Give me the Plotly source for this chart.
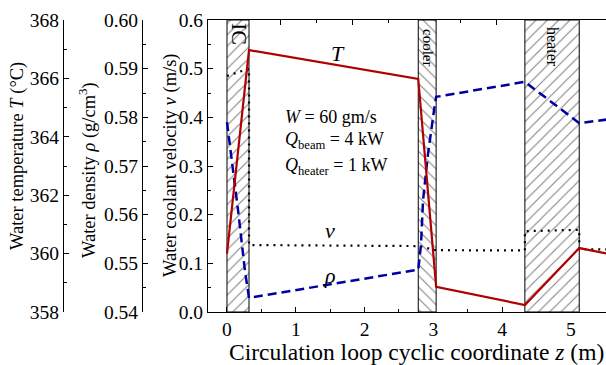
import plotly.graph_objects as go

# ---------------- data ----------------
region_names = ["IC", "cooler", "heater"]
region_start = [0.0, 2.78, 4.33]
region_end = [0.32, 3.04, 5.12]
region_pattern = ["/", "\\", "/"]

z_T = [0.0, 0.32, 2.78, 3.04, 4.33, 5.12, 5.60]
T_vals = [360.0, 366.97, 365.98, 358.86, 358.24, 360.19, 359.97]

z_rho = [0.0, 0.07, 0.16, 0.26, 0.32, 2.78, 2.82, 2.85, 2.92, 3.01, 3.04, 4.33, 5.12, 5.60]
rho_vals = [0.5790, 0.5712, 0.5610, 0.5486, 0.5429, 0.5487, 0.5538, 0.5630, 0.5723,
            0.5815, 0.5842, 0.5873, 0.5788, 0.5797]

z_v = [0.0, 0.32, 0.32, 2.78, 3.04, 4.33, 4.33, 5.12, 5.12, 5.60]
v_vals = [0.485, 0.500, 0.1376, 0.1355, 0.1270, 0.1265, 0.1660, 0.1690, 0.1290, 0.1288]

v_range = [0.0, 0.6]
rho_range = [0.54, 0.60]
T_range = [358, 368]
z_range = [-0.276, 5.509]

W, H = 606, 365
FONT = "Liberation Serif"
RED = "#B00000"
BLUE = "#0000A0"

def px(x):
    return x / W

fig = go.Figure()

# hatched component regions
for name, a, b, pat in zip(region_names, region_start, region_end, region_pattern):
    fig.add_trace(go.Scatter(
        x=[a, b, b, a, a], y=[v_range[0], v_range[0], v_range[1], v_range[1], v_range[0]],
        mode="lines", fill="toself", fillcolor="white",
        fillpattern=dict(shape=pat, size=8, solidity=0.13, fgcolor="black", bgcolor="white"),
        line=dict(color="black", width=1), showlegend=False, hoverinfo="skip",
        xaxis="x", yaxis="y"))

# velocity (dotted)
fig.add_trace(go.Scatter(x=z_v, y=v_vals, mode="lines",
                         line=dict(color="black", width=2.2, dash="2px,5px"),
                         showlegend=False, xaxis="x", yaxis="y"))
# density (dashed)
fig.add_trace(go.Scatter(x=z_rho, y=rho_vals, mode="lines",
                         line=dict(color=BLUE, width=2.5, dash="9px,5px"),
                         showlegend=False, xaxis="x", yaxis="y2"))
# temperature (solid)
fig.add_trace(go.Scatter(x=z_T, y=T_vals, mode="lines",
                         line=dict(color=RED, width=2.2),
                         showlegend=False, xaxis="x", yaxis="y3"))
# dummy trace for top axis
fig.add_trace(go.Scatter(x=[], y=[], xaxis="x2", yaxis="y", showlegend=False))

tickfont = dict(family=FONT, size=19.5, color="black")
common = dict(showline=True, linecolor="black", linewidth=1, ticks="inside",
              tickcolor="black", ticklen=5, tickwidth=1, showgrid=False, zeroline=False,
              tickfont=tickfont, layer="below traces")

x_dom0 = px(208)
fig.update_layout(
    width=W, height=H,
    margin=dict(l=0, r=0, t=20, b=53),
    paper_bgcolor="white", plot_bgcolor="white",
    font=dict(family=FONT, color="black"),
    xaxis=dict(domain=[x_dom0, 1], range=z_range, anchor="y", dtick=1, tick0=0,
               minor=dict(dtick=0.5, ticklen=3, ticks="inside", tickcolor="black"),
               **common),
    xaxis2=dict(domain=[px(227), 1], range=[0, z_range[1]], anchor="y", side="top",
                overlaying="x", dtick=1, tick0=0, showticklabels=False,
                minor=dict(dtick=0.5, ticklen=3, ticks="inside", tickcolor="black"),
                **common),
    yaxis=dict(domain=[0, 1], range=v_range, anchor="x", dtick=0.1, tickformat=".1f",
               minor=dict(dtick=0.05, ticklen=3, ticks="inside", tickcolor="black"),
               **common),
    yaxis2=dict(range=rho_range, overlaying="y", anchor="free", position=px(142),
                side="left", dtick=0.01, tickformat=".2f",
                minor=dict(dtick=0.005, ticklen=3, ticks="inside", tickcolor="black"),
                **common),
    yaxis3=dict(range=T_range, overlaying="y", anchor="free", position=px(63),
                side="left", dtick=2,
                minor=dict(dtick=1, ticklen=3, ticks="inside", tickcolor="black"),
                **common),
)

def ann(text, x, y, size, angle=0, xanchor="center"):
    fig.add_annotation(text=text, xref="paper", yref="paper", x=x, y=y,
                       xanchor=xanchor, yanchor="middle", showarrow=False,
                       textangle=angle, font=dict(family=FONT, size=size, color="black"))

plot_top, plot_bot = 20, 312
def py(y):
    return (plot_bot - y) / (plot_bot - plot_top)

# axis titles
ann("Circulation loop cyclic coordinate <i>z</i> (m)", px(416), py(352), 23.5)
ann("Water temperature <i>T</i> (°C)", px(17), py(156), 18.5, angle=-90)
ann("Water density <i>ρ</i> (g/cm<sup>3</sup>)", px(87), py(170), 18.5, angle=-90)
ann("Water coolant velocity <i>v</i> (m/s)", px(170), py(165), 18.5, angle=-90)

# curve labels
ann("<i>T</i>", px(338), py(53), 22)
ann("<i>v</i>", px(330), py(230), 22)
ann("<i>ρ</i>", px(330), py(275), 22)

# parameters
ann("<i>W</i> = 60 gm/s", px(283), py(117), 18, xanchor="left")
ann("<i>Q</i><sub>beam</sub> = 4 kW", px(283), py(140), 18, xanchor="left")
ann("<i>Q</i><sub>heater</sub> = 1 kW", px(283), py(166), 18, xanchor="left")

# component labels
ann("IC", px(239), py(34), 22, angle=90)
ann("cooler", px(428), py(47), 15, angle=90)
ann("heater", px(553), py(47), 16, angle=90)

fig.write_html("out.html")
